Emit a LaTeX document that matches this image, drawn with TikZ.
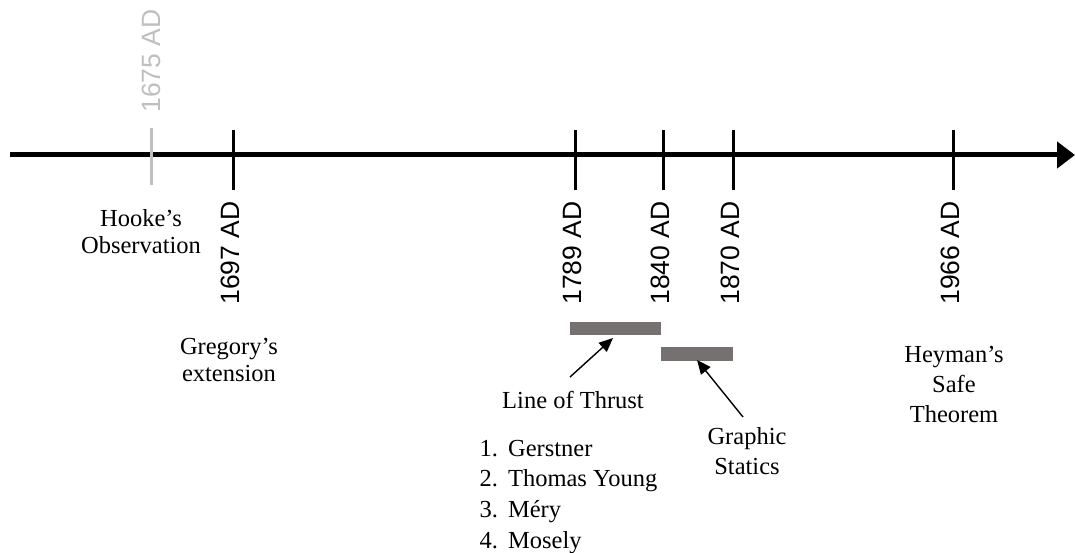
\documentclass[tikz,border=0pt]{standalone}
\usepackage{fontspec}
\setmainfont{Liberation Serif}
\newfontfamily\arialf{Liberation Sans}
\usetikzlibrary{arrows.meta}
\definecolor{tickgray}{RGB}{191,191,191}
\definecolor{bargray}{RGB}{118,113,113}
\tikzset{
  axisline/.style={line width=5pt,-{Triangle[length=18pt,width=26pt]}},
  tickline/.style={line width=3pt},
  yearlabel/.style={rotate=90,inner sep=0pt,font=\arialf\fontsize{26.5}{26.5}\selectfont},
  serif/.style={inner sep=0pt,align=center,font=\fontsize{24.5}{27}\selectfont},
  bar/.style={fill=bargray,draw=none,inner sep=0pt,minimum height=13.5pt},
  pointer/.style={line width=1.4pt,-{Triangle[length=14pt,width=12pt]}}
}
\begin{document}
\begin{tikzpicture}[x=1pt,y=-1pt]
\useasboundingbox (0,0) rectangle (1075,553);
% axis
\coordinate (axstart) at (10,155);
\coordinate (axend) at (1075,155);
\draw[axisline] (axstart) -- (axend);
% ticks
\foreach \n/\x in {t1697/233,t1789/575,t1840/663,t1870/733,t1966/953}{
  \coordinate (\n top) at (\x,130);
  \coordinate (\n bot) at (\x,190);
  \draw[tickline] (\n top) -- (\n bot);
}
\coordinate (t1675top) at (151,128);
\coordinate (t1675bot) at (151,185);
\draw[tickline,tickgray] (t1675top) -- (t1675bot);
% year labels
\node[yearlabel,text=tickgray] (y1675) at (151.5,61) {1675 AD};
\node[yearlabel] (y1697) at (230,253) {1697 AD};
\node[yearlabel] (y1789) at (572.5,253) {1789 AD};
\node[yearlabel] (y1840) at (660.5,253) {1840 AD};
\node[yearlabel] (y1870) at (730.5,253) {1870 AD};
\node[yearlabel] (y1966) at (950.5,253) {1966 AD};
% event texts
\node[serif] (hooke) at (141,231.5) {Hooke’s\\Observation};
\node[serif] (gregory) at (229,360) {Gregory’s\\extension};
\node[serif,font=\fontsize{24.5}{30}\selectfont] (heyman) at (954,384) {Heyman’s\\Safe\\Theorem};
\node[serif,font=\fontsize{24.5}{30}\selectfont] (graphic) at (747,451) {Graphic\\Statics};
\node[serif] (thrust) at (573,400) {Line of Thrust};
\node[inner sep=0pt,anchor=base west,font=\fontsize{24.5}{30.7}\selectfont] (list) at (479.5,456)
  {\begin{tabular}[t]{@{}r@{\hspace{10pt}}l@{}}1.&Gerstner\\2.&Thomas Young\\3.&Méry\\4.&Mosely\end{tabular}};
% bars
\node[bar,minimum width=90.5pt] (bar1) at (615.5,328.5) {};
\node[bar,minimum width=72pt] (bar2) at (696.5,354.2) {};
% pointers
\coordinate (p1start) at (570,377);
\coordinate (p1end) at (613,338);
\coordinate (p2start) at (743,417);
\coordinate (p2end) at (697,360);
\draw[pointer] (p1start) -- (p1end);
\draw[pointer] (p2start) -- (p2end);
\end{tikzpicture}
\end{document}
